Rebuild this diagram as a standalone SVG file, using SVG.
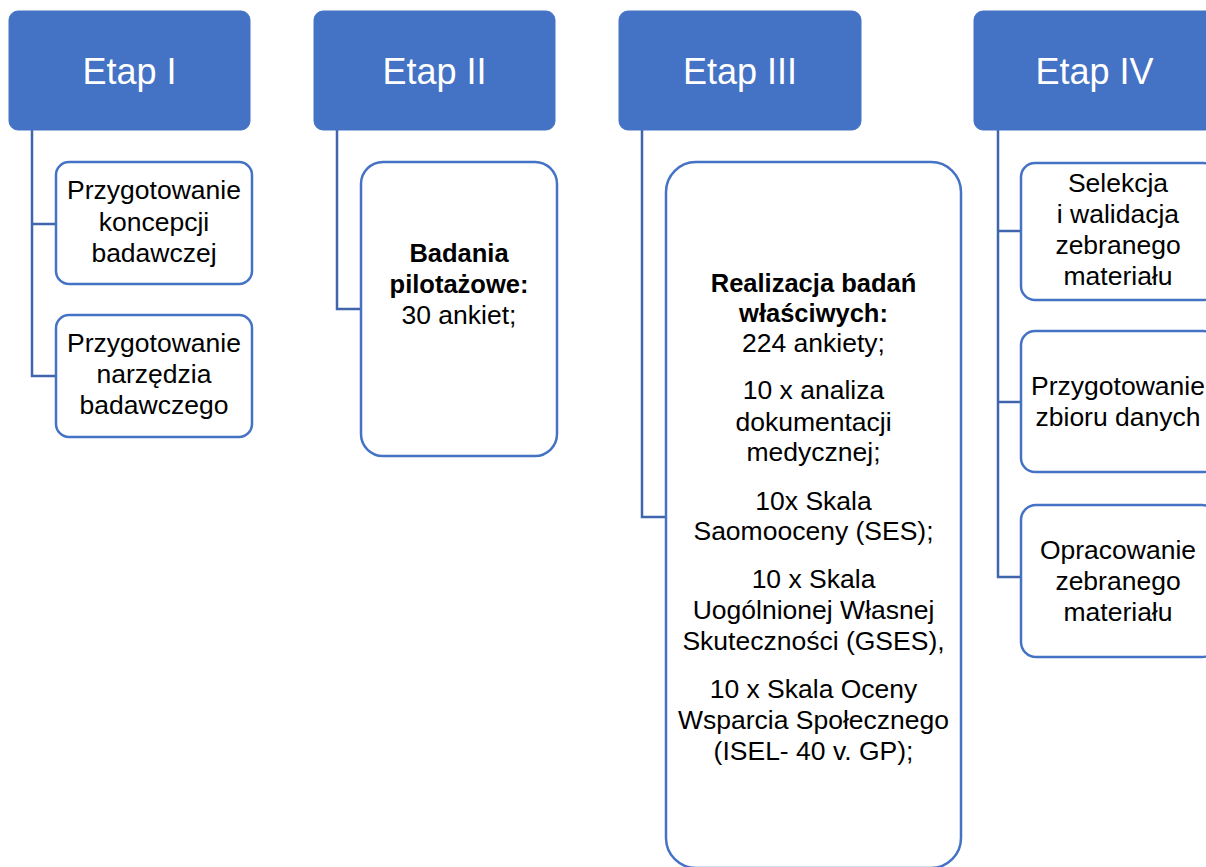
<svg xmlns="http://www.w3.org/2000/svg" width="1206" height="867" viewBox="0 0 1206 867">
<style>
.hdr{fill:#4472C4;stroke:#4472C4;stroke-width:1}
.box{fill:#FFFFFF;stroke:#4472C4;stroke-width:2.5}
.con{fill:none;stroke:#3F65AD;stroke-width:2.5}
.ht{font-family:"Liberation Sans",Arial,sans-serif;font-size:36px;fill:#FFFFFF;text-anchor:middle}
.bt{font-family:"Liberation Sans",Arial,sans-serif;font-size:26.5px;fill:#000000;text-anchor:middle}
.b{font-weight:bold;font-size:25.5px}
</style>
<rect width="1206" height="867" fill="#FFFFFF"/>
<g id="connectors">
<polyline class="con" points="32,130 32,376 56,376"/>
<line class="con" x1="32" y1="224" x2="56" y2="224"/>
<polyline class="con" points="337,130 337,309 361,309"/>
<polyline class="con" points="642,130 642,517 666,517"/>
<polyline class="con" points="998,130 998,577 1021,577"/>
<line class="con" x1="998" y1="231" x2="1021" y2="231"/>
<line class="con" x1="998" y1="402" x2="1021" y2="402"/>
</g>
<g id="etap1">
<rect class="hdr" x="9" y="11" width="241" height="119" rx="9"/>
<text class="ht" x="129.5" y="84">Etap I</text>
</g>
<g id="etap1-a">
<rect class="box" x="56" y="162" width="196" height="122" rx="13"/>
<text class="bt" x="154" y="199">Przygotowanie</text>
<text class="bt" x="154" y="231">koncepcji</text>
<text class="bt" x="154" y="262">badawczej</text>
</g>
<g id="etap1-b">
<rect class="box" x="56" y="315" width="196" height="122" rx="13"/>
<text class="bt" x="154" y="352">Przygotowanie</text>
<text class="bt" x="154" y="383">narzędzia</text>
<text class="bt" x="154" y="414">badawczego</text>
</g>
<g id="etap2">
<rect class="hdr" x="314" y="11" width="241" height="119" rx="9"/>
<text class="ht" x="434.5" y="84">Etap II</text>
</g>
<g id="etap2-a">
<rect class="box" x="361" y="162" width="196" height="294" rx="22"/>
<text class="bt b" x="459" y="262">Badania</text>
<text class="bt b" x="459" y="293">pilotażowe:</text>
<text class="bt" x="459" y="324">30 ankiet;</text>
</g>
<g id="etap3">
<rect class="hdr" x="619" y="11" width="242" height="119" rx="9"/>
<text class="ht" x="740" y="84">Etap III</text>
</g>
<g id="etap3-a">
<rect class="box" x="666" y="162" width="295" height="706" rx="30"/>
<text class="bt b" x="813.5" y="292">Realizacja badań</text>
<text class="bt b" x="813.5" y="322">właściwych:</text>
<text class="bt" x="813.5" y="352">224 ankiety;</text>
<text class="bt" x="813.5" y="399">10 x analiza</text>
<text class="bt" x="813.5" y="431">dokumentacji</text>
<text class="bt" x="813.5" y="461">medycznej;</text>
<text class="bt" x="813.5" y="510">10x Skala</text>
<text class="bt" x="813.5" y="540">Saomooceny (SES);</text>
<text class="bt" x="813.5" y="588">10 x Skala</text>
<text class="bt" x="813.5" y="619">Uogólnionej Własnej</text>
<text class="bt" x="813.5" y="650">Skuteczności (GSES),</text>
<text class="bt" x="813.5" y="698">10 x Skala Oceny</text>
<text class="bt" x="813.5" y="729">Wsparcia Społecznego</text>
<text class="bt" x="813.5" y="760">(ISEL- 40 v. GP);</text>
</g>
<g id="etap4">
<rect class="hdr" x="974" y="11" width="241" height="119" rx="9"/>
<text class="ht" x="1094.5" y="84">Etap IV</text>
</g>
<g id="etap4-a">
<rect class="box" x="1021" y="163" width="196" height="137" rx="14"/>
<text class="bt" x="1118" y="192">Selekcja</text>
<text class="bt" x="1118" y="223">i walidacja</text>
<text class="bt" x="1118" y="254">zebranego</text>
<text class="bt" x="1118" y="285">materiału</text>
</g>
<g id="etap4-b">
<rect class="box" x="1021" y="331" width="196" height="141" rx="14"/>
<text class="bt" x="1118" y="395">Przygotowanie</text>
<text class="bt" x="1118" y="426">zbioru danych</text>
</g>
<g id="etap4-c">
<rect class="box" x="1021" y="505" width="196" height="152" rx="15"/>
<text class="bt" x="1118" y="559">Opracowanie</text>
<text class="bt" x="1118" y="590">zebranego</text>
<text class="bt" x="1118" y="621">materiału</text>
</g>
</svg>
